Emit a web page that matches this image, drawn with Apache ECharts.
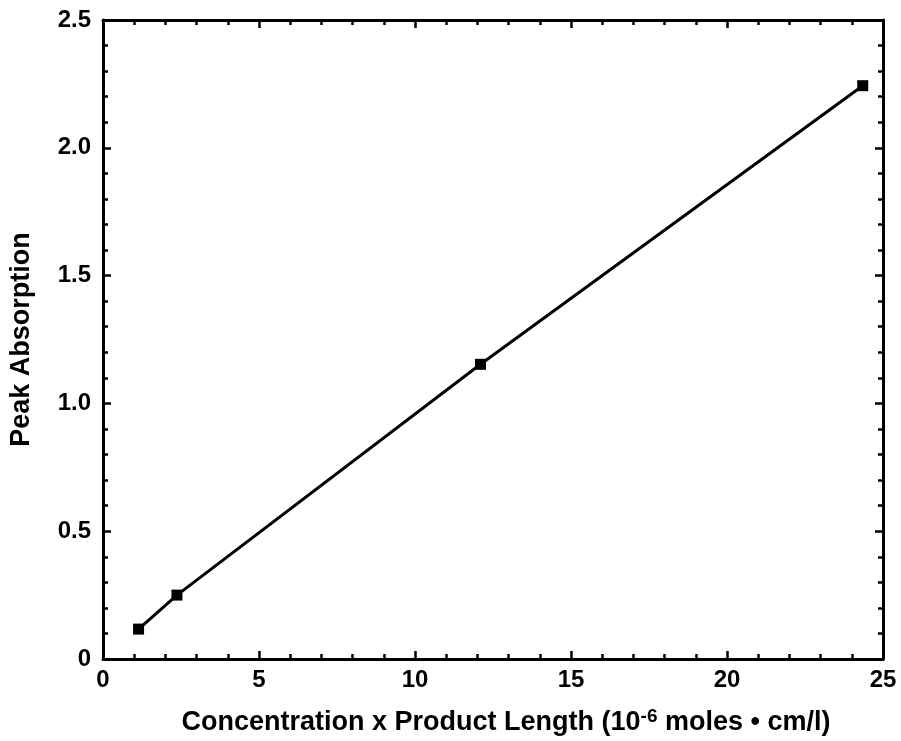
<!DOCTYPE html>
<html><head><meta charset="utf-8">
<script src="https://cdn.jsdelivr.net/npm/echarts@6/dist/echarts.min.js"></script>
<style>html,body{margin:0;padding:0;background:#fff}#c{width:901px;height:741px}</style>
</head><body><div id="c"></div>
<script>
const xValues = [1.14, 2.37, 12.1, 24.35];
const yValues = [0.117, 0.25, 1.153, 2.243];
const xTitle = 'Concentration x Product Length (10{sup|-6} moles • cm/l)';
const yTitle = 'Peak Absorption';

const font = 'Liberation Sans, Arial, Helvetica, sans-serif';
const data = xValues.map((x, i) => [x, yValues[i]]);
const lineStyle = {color: '#000', width: 3};
const tickBase = {show: true, inside: true, length: 8, lineStyle: {color: '#000', width: 2.5}};
const minorBase = {show: true, splitNumber: 5, length: 5, lineStyle: {color: '#000', width: 2.5}};

function xAx(pos, labels) {
  return {
    type: 'value', position: pos, min: 0, max: 25, interval: 5,
    axisLine: {show: true, onZero: false, lineStyle: lineStyle},
    axisTick: tickBase, minorTick: minorBase,
    splitLine: {show: false},
    axisLabel: {show: labels, color: '#000', fontSize: 24, fontWeight: 'bold', fontFamily: font, margin: 9},
    name: labels ? xTitle : '', nameLocation: 'middle', nameGap: 48,
    nameTextStyle: {color: '#000', fontSize: 27, fontWeight: 'bold', fontFamily: font, padding: [0, 0, 0, 26],
      rich: {sup: {fontSize: 19, fontWeight: 'bold', fontFamily: font, verticalAlign: 'top', padding: [0,0,12,0], color: '#000'}}}
  };
}
function yAx(pos, labels) {
  return {
    type: 'value', position: pos, min: 0, max: 2.5, interval: 0.5,
    axisLine: {show: true, onZero: false, lineStyle: lineStyle},
    axisTick: tickBase, minorTick: minorBase,
    splitLine: {show: false},
    axisLabel: {show: labels, color: '#000', fontSize: 24, fontWeight: 'bold', fontFamily: font, margin: 12,
      formatter: v => v === 0 ? '0' : v.toFixed(1)},
    name: labels ? yTitle : '', nameLocation: 'middle', nameGap: 68, nameRotate: 90,
    nameTextStyle: {color: '#000', fontSize: 27, fontWeight: 'bold', fontFamily: font}
  };
}

const chart = echarts.init(document.getElementById('c'), null, {renderer: 'canvas'});
chart.setOption({
  backgroundColor: '#fff',
  animation: false,
  grid: {left: 102, right: 18, top: 20, bottom: 82, containLabel: false},
  xAxis: [xAx('bottom', true), xAx('top', false)],
  yAxis: [yAx('left', true), yAx('right', false)],
  series: [{
    type: 'line', data: data, xAxisIndex: 0, yAxisIndex: 0,
    symbol: 'rect', symbolSize: 11, showSymbol: true,
    lineStyle: {color: '#000', width: 3},
    itemStyle: {color: '#000'}
  }]
});
</script></body></html>
